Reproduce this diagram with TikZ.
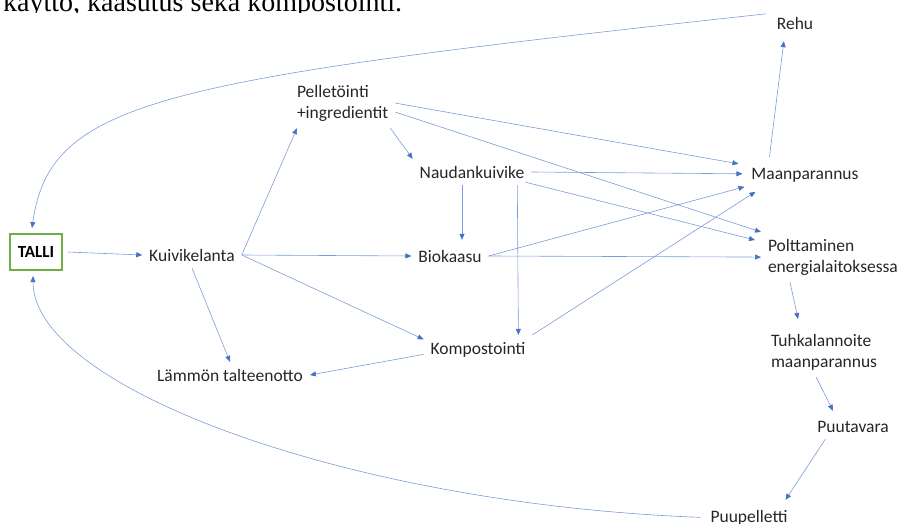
\documentclass[tikz,border=0pt]{standalone}
\usepackage{fontspec}
\setmainfont{Carlito}
\newfontfamily\bodyserif{Liberation Serif}
\usetikzlibrary{arrows.meta,calc}

\definecolor{linkblue}{RGB}{124,156,216}
\definecolor{tipblue}{RGB}{68,114,196}
\definecolor{tallgreen}{RGB}{112,173,71}
\definecolor{txtgray}{RGB}{38,38,38}

\tikzset{
  lbl/.style={inner sep=0pt, outer sep=7pt, text=txtgray, font=\fontsize{17.5}{21}\selectfont},
  flow/.style={draw=linkblue, line width=0.6pt, -{Triangle[length=6pt,width=5pt,color=tipblue]}},
}

\begin{document}
\begin{tikzpicture}[x=1pt,y=-1pt]
\useasboundingbox (0,0) rectangle (904,523);
\clip (0,0) rectangle (904,523);

% line of body text cut off above the figure
\begin{scope}
  \clip (0,0) rectangle (904,12);
  \node[anchor=base west, inner sep=0pt, font=\bodyserif\fontsize{28}{30}\selectfont] (bodyline) at (3,11.5) {käyttö, kaasutus sekä kompostointi.};
\end{scope}

% nodes
\node[draw=tallgreen, line width=2pt, minimum width=52pt, minimum height=36pt, inner sep=0pt, outer sep=6pt, font=\bfseries\fontsize{17}{20}\selectfont] (talli) at (36,252) {TALLI};
\node[lbl, anchor=base] (kuiv) at (192,261) {Kuivikelanta};
\node[lbl, anchor=north west, align=left] (pel) at (290,78) {Pelletöinti\\+ingredientit};
\node[lbl, anchor=base] (naud) at (472,178) {Naudankuivike};
\node[lbl, anchor=base] (bio) at (450,262) {Biokaasu};
\node[lbl, anchor=base] (komp) at (478,354) {Kompostointi};
\node[lbl, anchor=base] (lamm) at (230,381) {Lämmön talteenotto};
\node[lbl, anchor=base] (rehu) at (795,29) {Rehu};
\node[lbl, anchor=base] (maan) at (805,179) {Maanparannus};
\node[lbl, anchor=north west, align=left] (polt) at (761,232) {Polttaminen\\energialaitoksessa};
\node[lbl, anchor=north west, align=left] (tuhk) at (764,327) {Tuhkalannoite\\maanparannus};
\node[lbl, anchor=base] (puut) at (853,432) {Puutavara};
\node[lbl, anchor=base] (puup) at (749,522) {Puupelletti};

% connectors
\draw[flow] (talli.east) -- (kuiv.west);
\draw[flow] (kuiv.east) -- ($(pel.south west)+(7,0)$);
\draw[flow] (kuiv.east) -- (bio.west);
\draw[flow] (kuiv.east) -- ($(komp.west)+(0,-10)$);
\draw[flow] (kuiv.south) -- (lamm.north);
\draw[flow] ($(komp.west)+(0,5)$) -- (lamm.east);
\draw[flow] ($(pel.south east)+(-5,0)$) -- (naud.north west);
\draw[flow] (pel.east) -- ($(maan.west)+(-6,-11)$);
\draw[flow] ($(pel.east)+(0,9)$) -- (polt.north west);
\draw[flow] (naud.east) -- ($(maan.west)+(-2,-1)$);
\draw[flow] ($(naud.south east)+(-6,-3)$) -- ($(polt.north west)+(-6,8)$);
\draw[flow] ($(naud.south)+(-10,0)$) -- ($(bio.north)+(12,-3)$);
\draw[flow] ($(naud.south east)+(-14,0)$) -- ($(komp.north east)+(-14,0)$);
\draw[flow] (bio.east) -- ($(maan.south west)+(0,-2)$);
\draw[flow] (bio.east) -- (polt.west);
\draw[flow] (komp.north east) -- ($(maan.south west)+(11,3)$);
\draw[flow] ($(maan.north west)+(25,-4)$) -- ($(rehu.south west)+(14,5)$);
\draw[flow] ($(polt.south west)+(29,0)$) -- ($(tuhk.north west)+(34,-8)$);
\draw[flow] ($(tuhk.south)+(-8,0)$) -- ($(puut.north)+(-20,-3)$);
\draw[flow] ($(puut.south west)+(15,0)$) -- ($(puup.north east)+(-9,-3)$);

% loops back to the stable
\draw[flow] ($(rehu.north west)+(-4,4)$) .. controls +(-606,66) and +(18,-128) .. ($(talli.north)+(-4,0)$);
\draw[flow] ($(puup.west)+(-3,0)$) .. controls +(-350,-13) and +(0,112) .. ($(talli.south)+(-3,0)$);
\end{tikzpicture}
\end{document}
